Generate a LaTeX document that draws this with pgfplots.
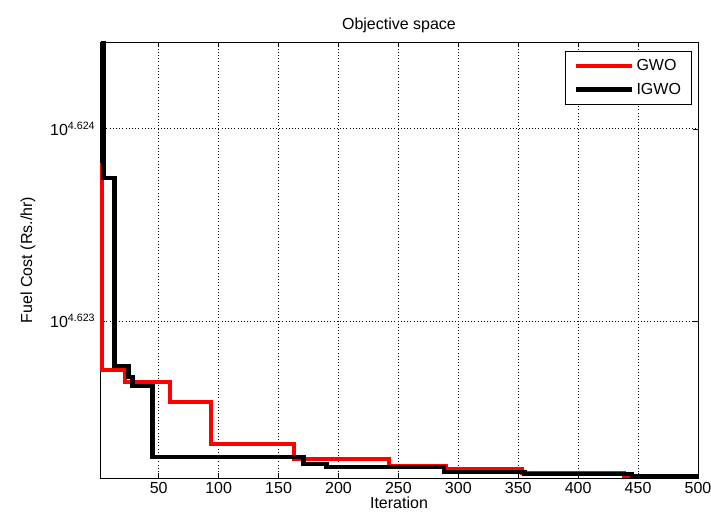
\documentclass[border=0pt]{standalone}
\usepackage{fontspec}
\setmainfont{Liberation Sans}
\usepackage{pgfplots}
\pgfplotsset{compat=1.18}
\usetikzlibrary{calc}
\begin{document}
\begin{tikzpicture}
\begin{axis}[
  scale only axis,
  width=448.5pt, height=327pt,
  xmin=1, xmax=500,
  ymin=41896.8, ymax=42116.5,
  xtick={50,100,...,500},
  ytick={41975.9,42072.7},
  yticklabels={10\textsuperscript{\fontsize{8pt}{9pt}\selectfont 4.623},10\textsuperscript{\fontsize{8pt}{9pt}\selectfont 4.624}},
  /pgf/number format/assume math mode=true,
  scaled y ticks=false,
  tick align=inside,
  major tick length=4pt,
  tick style={black, line width=0.6pt},
  axis line style={black, line width=0.6pt},
  grid=major,
  grid style={dotted, black, line width=0.7pt},
  font=\fontsize{12pt}{14pt}\selectfont,
  tick label style={font=\fontsize{12pt}{14pt}\selectfont},
  title={Objective space},
  title style={yshift=-3pt},
  xlabel={Iteration},
  ylabel={Fuel Cost (Rs./hr)},
  xlabel style={yshift=5pt},
  ylabel style={at={(axis description cs:-0.1,0.5)}},
  legend style={draw=black, line width=0.6pt, font=\fontsize{12pt}{14pt}\selectfont,
    row sep=4pt, inner xsep=6pt, inner ysep=4pt, at={(0.99,0.98)}, anchor=north east},
  legend cell align=left,
  legend image code/.code={\draw[#1] (0pt,0pt) -- (42pt,0pt);},
]
\addplot[const plot, color=red, line width=3pt] coordinates {
(1,42054.5) (3,41951.2) (22,41945.2) (59,41935.1) (94,41913.9) (163,41906.4)
(242,41902.8) (290,41901.5) (353,41899.3) (438,41897.5) (500,41897.5)
};
\addlegendentry{GWO}
\addplot[const plot, color=black, line width=3.5pt] coordinates {
(1,42125) (4,42048.0) (13,41953.2) (25,41947.7) (28,41943.1) (45,41907.4)
(171,41903.8) (190,41902.3) (288,41899.8) (355,41898.8) (445,41897.5) (500,41897.5)
};
\addlegendentry{IGWO}
\end{axis}
\pgfresetboundingbox
\useasboundingbox ($(current axis.south west)+(-75pt,-33.75pt)$) rectangle ($(current axis.north east)+(9.75pt,31.5pt)$);
\end{tikzpicture}
\end{document}
